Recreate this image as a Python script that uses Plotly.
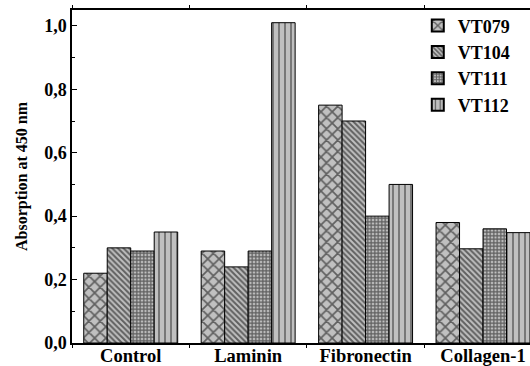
import plotly.graph_objects as go

categories = ["Control", "Laminin", "Fibronectin", "Collagen-1"]
series_names = ["VT079", "VT104", "VT111", "VT112"]
vt079 = [0.22, 0.29, 0.75, 0.38]
vt104 = [0.30, 0.24, 0.70, 0.297]
vt111 = [0.29, 0.29, 0.40, 0.36]
vt112 = [0.35, 1.01, 0.50, 0.348]
y_ticks = [0.0, 0.2, 0.4, 0.6, 0.8, 1.0]

values = [vt079, vt104, vt111, vt112]
patterns = [("x", 8, 0.38), ("\\", 4, 0.5), ("+", 3.5, 0.6), ("|", 6, 0.25)]

FONT = "Liberation Serif, Times New Roman, serif"
fig = go.Figure()
for name, vals, (shape, size, sol) in zip(series_names, values, patterns):
    fig.add_trace(go.Bar(
        x=categories, y=vals, name="<b>" + name + "</b>",
        marker=dict(color="#c0c0c0",
                    line=dict(color="black", width=1),
                    pattern=dict(shape=shape, size=size, solidity=sol,
                                 fgcolor="black", bgcolor="#c0c0c0", fillmode="overlay")),
    ))

fig.update_layout(
    width=530, height=366,
    margin=dict(l=72, r=0, t=10, b=23, autoexpand=False),
    barmode="group", bargap=0.2, bargroupgap=0,
    paper_bgcolor="white", plot_bgcolor="white",
    separators=",.",
    font=dict(family=FONT, size=18, color="black"),
    showlegend=True,
    legend=dict(x=0.755, y=1.008, xanchor="left", yanchor="top",
                bgcolor="rgba(0,0,0,0)", font=dict(family=FONT, size=18, color="black"),
                tracegroupgap=0, itemsizing="constant"),
    xaxis=dict(
        range=[-0.5, 3.4], showline=True, linecolor="black", linewidth=1.5,
        ticks="outside", ticklen=3, tickcolor="black", tickson="boundaries",
        mirror="ticks", showgrid=False, automargin=False, ticklabelstandoff=-5,
        tickfont=dict(family=FONT, size=18.5, color="black", weight="bold"),
    ),
    yaxis=dict(
        range=[0, 1.05], showline=True, linecolor="black", linewidth=1.5,
        tickvals=y_ticks, tickformat=".1f", ticks="inside", ticklen=5,
        tickcolor="black", showgrid=False, zeroline=False, automargin=False,
        minor=dict(dtick=0.1, ticks="inside", ticklen=3, tickcolor="black"),
        tickfont=dict(family=FONT, size=18, color="black", weight="bold"),
        title=dict(text="<b>Absorption at 450 nm</b>", standoff=13,
                   font=dict(family=FONT, size=16, color="black")),
    ),
)

fig.write_html("out.html")
